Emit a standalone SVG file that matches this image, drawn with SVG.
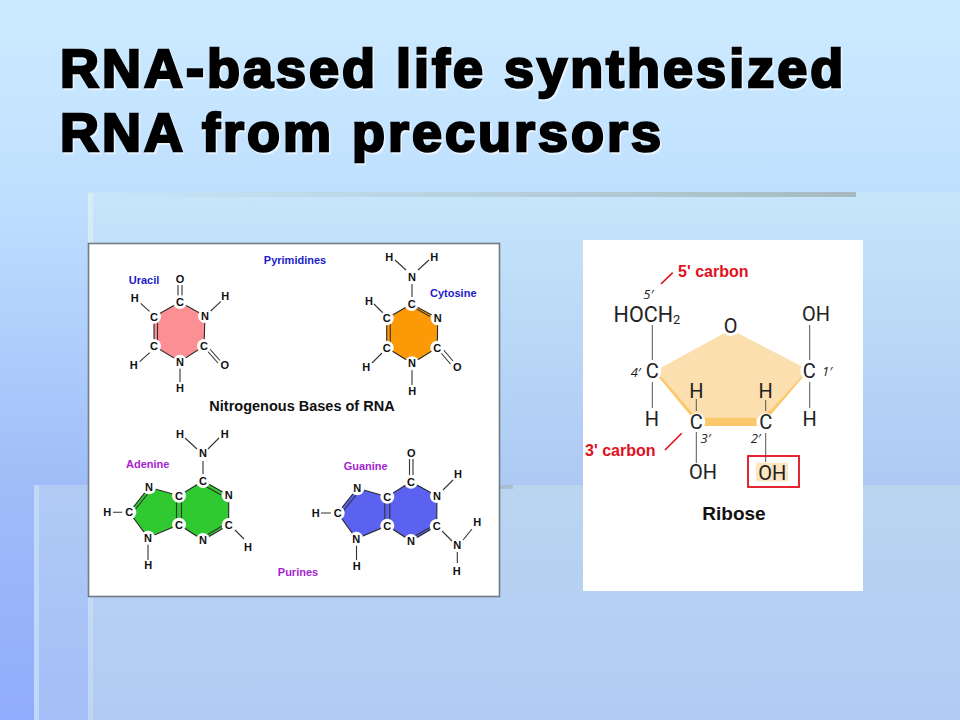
<svg xmlns="http://www.w3.org/2000/svg" width="960" height="720" viewBox="0 0 960 720">
<style>
.t{font-family:"Liberation Sans",Arial,sans-serif;font-weight:bold;font-size:54px;letter-spacing:3px;fill:#000;stroke:#000;stroke-width:2.5px}
.ts{font-family:"Liberation Sans",Arial,sans-serif;font-weight:bold;font-size:54px;letter-spacing:3px;fill:#fff;stroke:#fff;stroke-width:2.5px;opacity:.6}
.a{font-family:"Liberation Sans",Arial,sans-serif;font-weight:bold;font-size:11px;fill:#111;text-anchor:middle;dominant-baseline:central}
.b{font-family:"Liberation Sans",Arial,sans-serif;font-weight:bold;font-size:11px;text-anchor:middle;dominant-baseline:central}
.blue{fill:#1c1ccc}.pur{fill:#a41fd0}
.ti{font-family:"Liberation Sans",Arial,sans-serif;font-weight:bold;font-size:14.500px;fill:#111;text-anchor:middle;dominant-baseline:central}
.bond{stroke:#333;stroke-width:1.100;fill:none}
.ring{stroke:#2a2a2a;stroke-width:1.100}
.w{fill:#fff}
.r{font-family:Roboto,"Noto Sans",sans-serif;font-size:20px;fill:#222;text-anchor:middle;dominant-baseline:central}
.sm{font-family:"Open Sans","Noto Sans",sans-serif;font-size:13px;font-style:italic;fill:#222;text-anchor:middle;dominant-baseline:central}
.red{font-family:"Liberation Sans",Arial,sans-serif;font-weight:bold;font-size:16px;fill:#e0101c;dominant-baseline:central}
.rl{stroke:#e0101c;stroke-width:1.600;fill:none}
.gl{stroke:#555;stroke-width:1;fill:none}
</style>
<defs>
<linearGradient id="bg" x1="0" y1="0" x2="0" y2="1"><stop offset="0" stop-color="#cdebff"/><stop offset=".264" stop-color="#bfe0ff"/><stop offset=".667" stop-color="#a0bdf8"/><stop offset="1" stop-color="#90acfc"/></linearGradient>
<linearGradient id="bar" x1="0" y1="0" x2="1" y2="0"><stop offset="0" stop-color="#a9bcc2" stop-opacity="0"/><stop offset=".5" stop-color="#a9bcc2" stop-opacity=".5"/><stop offset="1" stop-color="#a6b9bf"/></linearGradient>
<linearGradient id="edge1" x1="0" y1="0" x2="0" y2="1"><stop offset="0" stop-color="#d8ecf6"/><stop offset="1" stop-color="#bed6f4"/></linearGradient>
</defs>
<rect width="960" height="720" fill="url(#bg)"/>
<g id="panels">
<rect x="88" y="192" width="872" height="528" fill="#e8ffe4" fill-opacity=".2"/>
<rect x="34" y="485" width="926" height="235" fill="#eefee8" fill-opacity=".22"/>
<rect x="88" y="193" width="5" height="527" fill="url(#edge1)"/>
<rect x="34" y="485" width="5" height="235" fill="#c0d8f9"/>
<rect x="93" y="192" width="763" height="5" fill="url(#bar)"/>
<rect x="480" y="485" width="33" height="4" fill="#a9bfd0"/>
</g>
<g id="title">
<text class="ts" x="61.500" y="88.500">RNA-based life synthesized</text>
<text class="ts" x="61.500" y="152.500">RNA from precursors</text>
<text class="t" x="60" y="87">RNA-based life synthesized</text>
<text class="t" x="60" y="151">RNA from precursors</text>
</g>
<rect id="bases-panel" x="88.500" y="243.500" width="411" height="353" fill="#fff" stroke="#717b86" stroke-width="1.600"/>
<rect id="ribose-panel" x="583" y="240" width="280" height="351" fill="#fff"/>
<g id="rings">
<polygon class="ring" fill="#fb8f93" points="180,302 205,316 204,346 180,361.700 154,346 154,316.700"/>
<polygon class="ring" fill="#fb9a06" points="411.700,304 437.700,318.300 437.300,347.700 412,363.300 386.700,347.700 386.700,318.300"/>
<polygon class="ring" fill="#31c931" points="149,487.300 179,495.700 203,481 228.700,495.300 228.700,525 203,540 179,524.700 148,537.700 129.300,512.300"/>
<polygon class="ring" fill="#5b62ef" points="357.300,488.300 387.300,496.700 411,481.700 437,496 436.700,526 411,541 387.300,525.700 356.300,538.700 337.700,513"/>
<polygon fill="#fbc86c" points="658.300,376.700 690,415 704,418.300 704,426 756.700,426 756.700,418.300 770.700,415 803.300,376.700"/>
<polygon fill="#fbdfae" points="726.700,331.700 660,368.300 658.300,373.300 692.700,413.300 704,417.700 756.700,417.700 770.700,410 803.300,375 802.700,366.700 735,331.700"/>
<rect x="756" y="462.700" width="32" height="18.600" fill="#fbe6c0"/>
</g>
<g id="connectors">
<path class="bond" d="M140.700 303.300L149.700 311.700M210.700 311L220.700 301.700M139.700 361.700L149.700 352.700M180 368V382M178 285V296M182 285V296M157.500 321V342M208.500 347.500L220 360.500M206.500 350L218 363"/>
<path class="bond" d="M395 260L406 270M429 260L418 270M412 284V297M374 304L383 313M372 363L382 353M412 370V385M415 308L430 316.500M441 347L453 361M438.500 350L450.500 364M390.300 322V344"/>
<path class="bond" d="M185 438L197 449M219 438L208 449M203 461V474M113 512.300H124M148 544V560M134 511L148.500 493M176.500 500V521M181.500 500V521M206 486.500L221 495M207 535L222 526M235 530L244 539"/>
<path class="bond" d="M409.500 459V475M413 459V475M321 513H332M356.500 545V560M342.500 512L357 494M384.800 501V522M389.800 501V522M415 536L431 527M443 490L453 480M442 531L452 541M463 540L472 529M457.300 552V563"/>
<path class="gl" d="M652.300 325V360M652.300 382V408M809.700 325V360M809.700 382V408M696.300 399V411M696.300 432V463M765.700 400V411M765.700 433V462"/>
<path class="rl" d="M661 284L672.700 272.700M665 450L681.700 433.300"/>
</g>
<g id="uracil">
<circle class="w" cx="180" cy="302" r="7"/><circle class="w" cx="205" cy="316" r="7"/><circle class="w" cx="204" cy="346" r="7"/><circle class="w" cx="180" cy="361.700" r="7"/><circle class="w" cx="154" cy="346" r="7"/><circle class="w" cx="154" cy="316.700" r="7"/>
<text class="a" x="180" y="279">O</text><text class="a" x="180" y="302">C</text><text class="a" x="205" y="316">N</text><text class="a" x="204" y="346">C</text><text class="a" x="180" y="361.700">N</text><text class="a" x="154" y="346">C</text><text class="a" x="154" y="316.700">C</text>
<text class="a" x="134.700" y="298.300">H</text><text class="a" x="225.300" y="295.700">H</text><text class="a" x="133.700" y="365">H</text><text class="a" x="224.700" y="365">O</text><text class="a" x="180" y="388.300">H</text>
<text class="b blue" x="144" y="280">Uracil</text>
</g>
<g id="cytosine">
<circle class="w" cx="411.700" cy="304" r="7"/><circle class="w" cx="437.700" cy="318.300" r="7"/><circle class="w" cx="437.300" cy="347.700" r="7"/><circle class="w" cx="412" cy="363.300" r="7"/><circle class="w" cx="386.700" cy="347.700" r="7"/><circle class="w" cx="386.700" cy="318.300" r="7"/>
<text class="a" x="411.700" y="304">C</text><text class="a" x="437.700" y="318.300">N</text><text class="a" x="437.300" y="347.700">C</text><text class="a" x="412" y="363.300">N</text><text class="a" x="386.700" y="347.700">C</text><text class="a" x="386.700" y="318.300">C</text>
<text class="a" x="412" y="276.700">N</text><text class="a" x="389.300" y="257.300">H</text><text class="a" x="434.300" y="257.300">H</text><text class="a" x="369" y="300.700">H</text><text class="a" x="366.300" y="367.300">H</text><text class="a" x="457.300" y="367">O</text><text class="a" x="412.300" y="390.700">H</text>
<text class="b blue" x="453.300" y="293.300">Cytosine</text>
</g>
<g id="adenine">
<circle class="w" cx="149" cy="487.300" r="7"/><circle class="w" cx="129.300" cy="512.300" r="7"/><circle class="w" cx="148" cy="537.700" r="7"/><circle class="w" cx="179" cy="495.700" r="7"/><circle class="w" cx="179" cy="524.700" r="7"/><circle class="w" cx="203" cy="481" r="7"/><circle class="w" cx="228.700" cy="495.300" r="7"/><circle class="w" cx="228.700" cy="525" r="7"/><circle class="w" cx="203" cy="540" r="7"/>
<text class="a" x="149" y="487.300">N</text><text class="a" x="129.300" y="512.300">C</text><text class="a" x="148" y="537.700">N</text><text class="a" x="179" y="495.700">C</text><text class="a" x="179" y="524.700">C</text><text class="a" x="203" y="481">C</text><text class="a" x="228.700" y="495.300">N</text><text class="a" x="228.700" y="525">C</text><text class="a" x="203" y="540">N</text>
<text class="a" x="107.300" y="512.300">H</text><text class="a" x="148.300" y="565">H</text><text class="a" x="248" y="546.700">H</text><text class="a" x="203" y="453.300">N</text><text class="a" x="180" y="434.300">H</text><text class="a" x="224.700" y="434.300">H</text>
<text class="b pur" x="147.700" y="464.300">Adenine</text>
</g>
<g id="guanine">
<circle class="w" cx="357.300" cy="488.300" r="7"/><circle class="w" cx="337.700" cy="513" r="7"/><circle class="w" cx="356.300" cy="538.700" r="7"/><circle class="w" cx="387.300" cy="496.700" r="7"/><circle class="w" cx="387.300" cy="525.700" r="7"/><circle class="w" cx="411" cy="481.700" r="7"/><circle class="w" cx="437" cy="496" r="7"/><circle class="w" cx="436.700" cy="526" r="7"/><circle class="w" cx="411" cy="541" r="7"/>
<text class="a" x="357.300" y="488.300">N</text><text class="a" x="337.700" y="513">C</text><text class="a" x="356.300" y="538.700">N</text><text class="a" x="387.300" y="496.700">C</text><text class="a" x="387.300" y="525.700">C</text><text class="a" x="411" y="481.700">C</text><text class="a" x="437" y="496">N</text><text class="a" x="436.700" y="526">C</text><text class="a" x="411" y="541">N</text>
<text class="a" x="411.300" y="452.700">O</text><text class="a" x="315.700" y="513">H</text><text class="a" x="356.700" y="565.700">H</text><text class="a" x="458" y="474">H</text><text class="a" x="457.300" y="545.300">N</text><text class="a" x="477.300" y="522">H</text><text class="a" x="456.700" y="570.700">H</text>
<text class="b pur" x="365.700" y="465.700">Guanine</text>
</g>
<g id="bases-labels">
<text class="b blue" x="295" y="260">Pyrimidines</text>
<text class="ti" x="302" y="406">Nitrogenous Bases of RNA</text>
<text class="b pur" x="298" y="572">Purines</text>
</g>
<g id="ribose">
<circle class="w" cx="730.700" cy="326" r="10"/><circle class="w" cx="652.300" cy="371" r="9"/><circle class="w" cx="809.300" cy="371" r="9"/><circle class="w" cx="696.300" cy="422" r="9"/><circle class="w" cx="765.700" cy="422" r="9"/>
<text class="r" x="730.700" y="326">O</text>
<text class="r" x="652.300" y="371">C</text><text class="r" x="809.300" y="371">C</text><text class="r" x="696.300" y="422">C</text><text class="r" x="765.700" y="422">C</text>
<text class="r" x="696.300" y="391">H</text><text class="r" x="765.700" y="391">H</text><text class="r" x="652" y="419">H</text><text class="r" x="809.700" y="419">H</text>
<text class="r" x="816" y="314">OH</text><text class="r" x="703" y="472">OH</text><text class="r" x="772.300" y="472.700">OH</text>
<text class="r" x="647" y="314" font-size="21.500" style="font-size:21.500px">HOCH<tspan style="font-size:13px" dy="5">2</tspan></text>
<text class="sm" x="648.300" y="294">5′</text><text class="sm" x="635.700" y="371.700">4′</text><text class="sm" x="827" y="370.700">1′</text><text class="sm" x="705.500" y="438">3′</text><text class="sm" x="755.700" y="438">2′</text>
<rect x="748" y="456" width="51" height="31" fill="none" stroke="#e0101c" stroke-width="1.800"/>
<text class="red" x="678" y="271">5' carbon</text><text class="red" x="585" y="450">3' carbon</text>
<text x="734" y="513" font-family="Liberation Sans, Arial, sans-serif" font-weight="bold" font-size="19" fill="#111" text-anchor="middle" dominant-baseline="central">Ribose</text>
</g>
</svg>
